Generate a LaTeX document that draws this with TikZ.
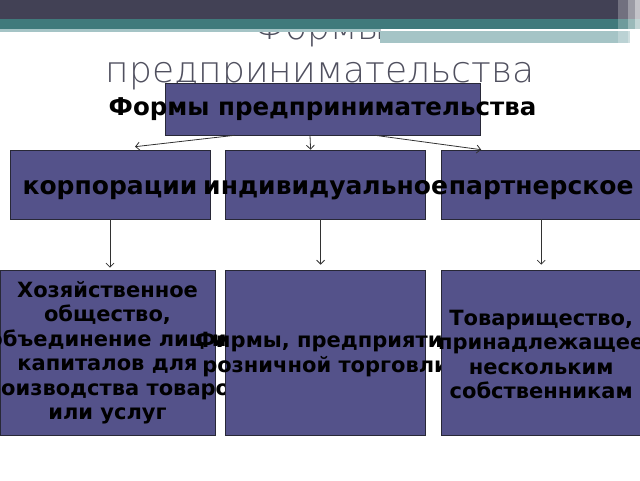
\documentclass[tikz,border=0pt]{standalone}
\usepackage{fontspec}
\setmainfont{DejaVu Sans}
\newfontfamily\titlefont{DejaVu Sans ExtraLight}
\usetikzlibrary{positioning}
\usetikzlibrary{calc}
\usetikzlibrary{arrows.meta}
\definecolor{boxfill}{RGB}{84,82,138}
\definecolor{boxline}{RGB}{40,40,55}
\definecolor{darkband}{RGB}{66,65,85}
\definecolor{tealband}{RGB}{64,122,124}
\definecolor{lightband}{RGB}{165,196,198}
\definecolor{titlegray}{RGB}{80,80,95}
\definecolor{linkgray}{RGB}{50,50,50}

\begin{document}
\begin{tikzpicture}[x=1pt,y=-1pt,
	box/.style={draw=boxline, fill=boxfill, line width=0.6pt, minimum width=200pt, inner sep=0pt},
	lbl/.style={font=\bfseries\fontsize{21}{24.5}\selectfont, align=center, text=black, inner sep=0pt},
	link/.style={draw=linkgray, line width=0.8pt, -{Straight Barb[length=4pt,width=8pt]}}]
	\useasboundingbox (0,0) rectangle (640,480);
	
	% Title and header bands
	\node [font=\titlefont\fontsize{36}{43}\selectfont, text=titlegray, align=center] (title) at (320,52) {Формы\\предпринимательства};
	\fill [darkband] (0,0) rectangle (640,19);
	\fill [tealband] (0,19) rectangle (640,29);
	\fill [lightband] (0,29) rectangle (380,32);
	\fill [lightband] (380,31) rectangle (630,43);
	\fill [white, opacity=0.25] (618,0) rectangle (640,43);
	\fill [white, opacity=0.3] (628,0) rectangle (640,43);
	\fill [white, opacity=0.4] (635,0) rectangle (640,43);
	
	% Level 1
	\node [box, minimum width=315pt, minimum height=52pt] (forms) at (322.5,109) {};
	\node [lbl, font=\bfseries\fontsize{24.5}{28}\selectfont] (formsT) at (forms) {Формы предпринимательства};
	
	% Level 2
	\node [box, minimum height=69pt] (corp) at (110,184.5) {};
	\node [box, minimum height=69pt, right=15pt of corp] (indiv) {};
	\node [box, minimum height=69pt, right=15pt of indiv] (partn) {};
	\node [lbl, font=\bfseries\fontsize{25}{28}\selectfont] (corpT) at ([yshift=-6pt]corp.center) {корпорации};
	\node [lbl, font=\bfseries\fontsize{25}{28}\selectfont] (indivT) at ([yshift=-6pt]indiv.center) {индивидуальное};
	\node [lbl, font=\bfseries\fontsize{25}{28}\selectfont] (partnT) at ([yshift=-6pt]partn.center) {партнерское};
	
	% Level 3
	\node [box, minimum width=215pt, minimum height=165pt] (hoz) at (107.5,352.5) {};
	\node [lbl] (hozT) at (hoz) {Хозяйственное\\общество,\\объединение лиц и\\капиталов для\\производства товаров\\или услуг};
	\node [box, minimum height=165pt, right=10pt of hoz] (firm) {};
	\node [lbl] (firmT) at ([yshift=-2pt]firm.center) {Фирмы, предприятия\\розничной торговли};
	\node [box, minimum height=165pt, right=15pt of firm] (tov) {};
	\node [lbl] (tovT) at ([yshift=-2pt]tov.center) {Товарищество,\\принадлежащее\\нескольким\\собственникам};
	
	% Connections
	\draw [link] ([xshift=70pt]forms.south west) -- ([xshift=25pt,yshift=3pt]corp.north);
	\draw [link] ([xshift=-12.5pt]forms.south) -- ([xshift=-15pt]indiv.north);
	\draw [link] ([xshift=52.5pt]forms.south) -- ([xshift=-60pt]partn.north);
	\draw [link, shorten >=2pt] (corp.south) -- (corp.south |- hoz.north);
	\draw [link, shorten >=5pt] ([xshift=-5pt]indiv.south) -- ([xshift=-5pt]indiv.south |- firm.north);
	\draw [link, shorten >=5pt] (partn.south) -- (partn.south |- tov.north);
\end{tikzpicture}
\end{document}
